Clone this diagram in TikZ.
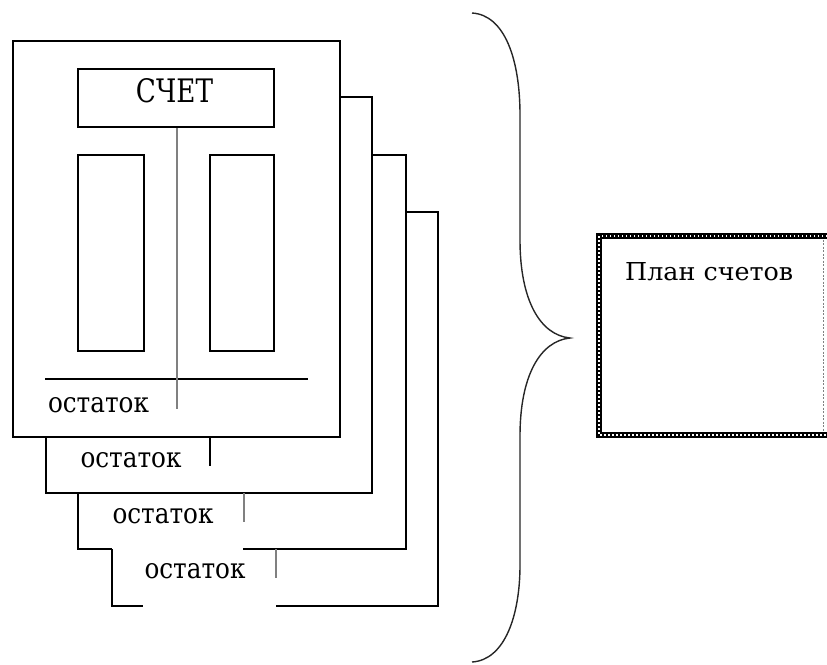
\documentclass[tikz,border=0pt]{standalone}
\usepackage{fontspec}
\setmainfont{DejaVu Serif}
\newcommand{\fitxt}[3]{\resizebox{#1}{#2}{#3}}
\begin{document}
\begin{tikzpicture}[x=1pt,y=-1pt,
  card/.style={draw=black,line width=1.5pt},
  grayline/.style={draw=black!50,line width=1.7pt},
  lbl/.style={inner sep=0pt,anchor=base,font=\fontsize{24}{26}\selectfont},
  cell/.style={draw=black,line width=1.5pt,inner sep=0pt}]
\useasboundingbox (0,0) rectangle (827,664);
% card stack
\draw[card] (13,41) rectangle (340,437);
\draw[card] (340,97) -- (372,97) -- (372,493) -- (46,493) -- (46,437);
\draw[card] (372,155) -- (406,155) -- (406,549) -- (243,549);
\draw[card] (78,493) -- (78,549) -- (112,549);
\draw[card] (406,212) -- (438,212) -- (438,606) -- (276,606);
\draw[card] (112,549) -- (112,606) -- (143,606);
% account T
\node[cell,minimum width=196pt,minimum height=58pt] (schet) at (176,98) {};
\node[inner sep=0pt,anchor=base,font=\fontsize{30}{32}\selectfont] (schettxt) at (174.5,102) {\fitxt{77pt}{24pt}{СЧЕТ}};
\node[cell,minimum width=66pt,minimum height=196pt] (deb) at (111,253) {};
\node[cell,minimum width=64pt,minimum height=196pt] (cred) at (242,253) {};
\coordinate (hl) at (45,379);
\coordinate (hr) at (308,379);
\draw[card] (hl) -- (hr);
\coordinate (vend) at (177,409);
\draw[grayline] (schet.south -| vend) -- (vend);
% remainders
\node[lbl] (o1) at (98.5,412) {\fitxt{101pt}{15pt}{остаток}};
\node[lbl] (o2) at (131,467) {\fitxt{101pt}{15pt}{остаток}};
\node[lbl] (o3) at (163,523) {\fitxt{101pt}{15pt}{остаток}};
\node[lbl] (o4) at (195,578) {\fitxt{101pt}{15pt}{остаток}};
\draw[card] (210,437) -- (210,466);
\draw[grayline,line width=1.1pt] (244,493) -- (244,522);
\draw[grayline,line width=1.1pt] (276,549) -- (276,578);
% brace
\draw[line width=1.4pt,black!85] (472,13) .. controls (505,15) and (520,60) .. (520,115) -- (520,240)
  .. controls (520,300) and (540,335) .. (570,338)
  .. controls (540,341) and (520,376) .. (520,436) -- (520,565)
  .. controls (520,615) and (505,660) .. (472,662);
% chart of accounts box
\draw[black!50,line width=0.6pt,dash pattern=on 2pt off 1.5pt] (823,236) -- (823,435);
\draw[line width=5.5pt,black] (827,236) -- (599,236) -- (599,435) -- (827,435);
\draw[line width=1.5pt,white,dash pattern=on 1.5pt off 2.5pt] (827,236) -- (599,236) -- (599,435) -- (827,435);
\node[inner sep=0pt,anchor=base west,font=\fontsize{22}{24}\selectfont] (plan) at (625,280) {\fitxt{168pt}{18pt}{План счетов}};
\end{tikzpicture}
\end{document}
